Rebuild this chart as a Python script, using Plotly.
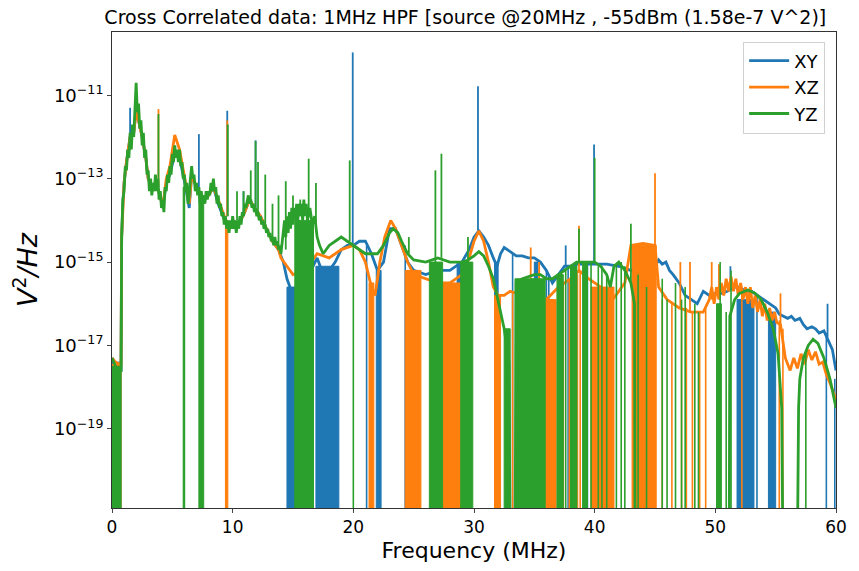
import plotly.graph_objects as go

# ---- Cross-correlated spectra (log10 of V^2/Hz), frequency in MHz ----
# Negative cross-spectrum values fall below the axis; they are stored as -22.
FLOOR_LOG = -22.0

# XY channel pair
xy_freq = [0.0, 0.3, 0.6, 0.75, 0.8, 0.9, 1.0, 1.2, 1.5, 1.8, 2.0, 2.2, 2.5, 2.8, 3.0, 3.3, 3.6, 4.0, 4.2,
           4.5, 4.8, 5.2, 5.6, 6.1, 6.4, 6.6, 7.0, 7.6, 8.0, 8.4, 8.8, 9.2, 9.7, 10.0, 10.5, 11.0, 11.4,
           11.8, 12.3, 12.8, 13.3, 13.8, 14.2, 14.5, 15.0, 15.5, 16.0, 16.5, 17.0, 17.5, 18.0, 18.5, 19.0,
           19.5, 20.0, 20.5, 21.0, 21.5, 22.0, 22.5, 23.0, 23.5, 24.0, 24.5, 25.0, 26.0, 27.0, 28.0, 29.0,
           29.6, 30.0, 30.4, 30.8, 31.2, 31.6, 31.9, 32.2, 32.5, 33.0, 33.5, 34.0, 34.5, 35.0, 35.5, 36.0,
           36.5, 37.0, 37.5, 38.0, 38.5, 39.0, 39.5, 40.0, 41.0, 42.0, 43.0, 44.0, 45.0, 45.3, 45.6, 45.9,
           46.2, 46.5, 47.0, 47.5, 48.0, 48.5, 49.0, 49.5, 50.0, 50.5, 51.0, 51.5, 52.0, 52.5, 53.0, 53.5,
           54.0, 54.5, 55.0, 55.3, 55.6, 56.0, 56.3, 56.6, 57.0, 57.3, 57.6, 58.0, 58.3, 58.6, 59.0, 59.4,
           59.7, 60.0]
xy_log = [-17.3, -17.45, -17.6, -17.6, -14.4, -13.6, -13.1, -12.6, -12.0, -11.9, -11.35, -11.6, -12.0, -12.5,
          -13.0, -13.2, -13.1, -13.4, -13.7, -13.1, -12.9, -12.4, -12.5, -13.2, -13.7, -12.9, -13.2, -13.5,
          -13.4, -13.2, -13.6, -13.9, -14.2, -14.0, -14.1, -13.8, -13.5, -13.7, -13.9, -14.2, -14.5, -14.7,
          -15.0, -15.4, -15.8, -15.5, -15.3, -15.2, -14.9, -15.3, -15.2, -15.0, -14.7, -14.6, -14.6, -14.5,
          -14.5, -14.8, -15.2, -15.0, -14.2, -14.2, -14.6, -15.0, -15.2, -15.3, -15.2, -15.2, -15.0, -14.7,
          -14.4, -14.25, -14.4, -14.6, -14.9, -15.1, -14.8, -14.65, -14.75, -14.85, -14.85, -14.9, -14.9,
          -15.0, -15.2, -15.5, -15.3, -15.1, -15.1, -15.05, -15.05, -15.05, -15.05, -15.05, -15.1, -15.2,
          -15.1, -15.1, -14.95, -15.05, -15.0, -15.2, -15.3, -15.5, -15.8, -15.9, -16.0, -15.7, -15.8,
          -15.75, -15.75, -15.7, -15.6, -15.6, -15.7, -15.7, -15.8, -15.9, -16.0, -16.1, -16.25, -16.3,
          -16.35, -16.3, -16.4, -16.35, -16.5, -16.6, -16.55, -16.6, -16.7, -16.65, -16.9, -17.1, -17.6,
          -18.4]
# (frequency, base, peak) of narrow lines above the floor of the spectrum
xy_spikes = [(1.5, -12.2, -11.3), (7.2, -13.4, -11.93), (9.55, -13.9, -11.37), (10.9, -13.9, -13.3),
             (11.9, -13.7, -12.08), (19.95, -14.6, -9.97), (30.33, -14.3, -10.78), (37.6, -15.1, -14.6),
             (39.95, -15.0, -12.18), (51.25, -15.6, -15.1), (59.3, -16.8, -16.0)]
# (frequency, top) of single lines dropping below the axis
xy_dips = [(21.1, -14.6), (24.3, -14.6), (25.4, -15.2), (33.2, -14.8), (36.0, -15.2), (36.2, -15.3),
           (37.8, -15.1), (38.4, -15.0), (39.2, -15.0), (39.4, -15.0), (53.45, -15.8), (59.2, -16.7),
           (59.9, -17.8)]
# (start, end, top) of densely packed sign changes
xy_bands = [(0.0, 0.75, -17.4), (14.5, 15.2, -15.6), (16.9, 18.8, -15.1), (21.9, 22.3, -15.2),
            (28.6, 29.2, -15.0), (31.7, 32.0, -15.0), (35.0, 35.3, -15.0), (51.8, 53.2, -15.9),
            (54.4, 55.0, -16.2)]

# XZ channel pair
xz_freq = [0.0, 0.3, 0.6, 0.75, 0.8, 0.9, 1.0, 1.2, 1.5, 1.8, 2.0, 2.2, 2.5, 2.8, 3.0, 3.3, 3.6, 4.0, 4.2,
           4.5, 4.8, 5.2, 5.6, 6.1, 6.4, 6.6, 7.0, 7.6, 8.0, 8.4, 8.8, 9.2, 9.7, 10.0, 10.5, 11.0, 11.4,
           11.8, 12.3, 12.8, 13.3, 13.8, 14.0, 14.5, 15.0, 16.0, 17.0, 18.0, 19.0, 20.0, 20.5, 21.0, 21.5,
           21.8, 22.2, 22.6, 23.1, 23.5, 24.0, 24.5, 25.0, 26.0, 27.0, 28.0, 29.0, 29.6, 30.0, 30.4, 30.8,
           31.2, 31.6, 32.0, 32.5, 33.0, 34.0, 35.0, 36.0, 37.0, 38.0, 38.7, 39.5, 40.5, 41.5, 42.5, 43.0,
           44.0, 45.0, 45.3, 46.0, 47.0, 48.0, 49.0, 49.5, 49.7, 49.9, 50.1, 50.3, 50.5, 50.7, 50.9, 51.1,
           51.3, 51.5, 51.7, 51.9, 52.1, 52.3, 52.5, 52.7, 52.9, 53.1, 53.3, 53.5, 53.7, 53.9, 54.1, 54.3,
           54.5, 54.7, 54.9, 55.1, 55.4, 55.8, 56.2, 56.5, 56.8, 57.1, 57.4, 57.7, 58.0, 58.3, 58.6, 58.9,
           59.2, 59.5, 60.0]
xz_log = [-17.3, -17.4, -17.45, -17.5, -14.4, -13.6, -13.1, -12.6, -12.0, -11.9, -11.4, -11.6, -12.0,
          -12.5, -13.0, -13.2, -13.1, -13.4, -13.7, -13.0, -12.7, -11.95, -12.3, -13.1, -13.6, -12.9,
          -13.2, -13.5, -13.4, -13.2, -13.5, -13.8, -14.2, -14.0, -14.1, -13.8, -13.5, -13.7, -13.9,
          -14.2, -14.5, -14.7, -14.9, -15.1, -15.3, -15.2, -14.8, -14.9, -14.7, -14.6, -14.7, -15.0,
          -15.6, -15.8, -15.0, -14.4, -14.0, -14.2, -14.6, -15.0, -15.3, -15.4, -15.5, -15.5, -15.3,
          -14.9, -14.5, -14.25, -14.5, -15.0, -15.6, -15.8, -15.8, -15.7, -15.8, -15.8, -15.9, -15.6,
          -15.4, -15.2, -15.4, -15.6, -15.9, -15.5, -14.6, -14.55, -14.6, -15.6, -15.9, -16.1, -16.2,
          -16.2, -15.9, -15.6, -16.0, -15.6, -15.9, -15.5, -15.8, -15.4, -15.7, -15.35, -15.7, -15.4,
          -15.8, -15.5, -15.9, -15.6, -16.0, -15.6, -16.1, -15.8, -16.2, -15.9, -16.3, -16.0, -16.4,
          -16.1, -16.4, -16.2, -16.45, -16.5, -17.3, -17.6, -17.3, -17.55, -17.2, -17.45, -17.1, -17.35,
          -17.15, -17.45, -17.4, -17.7, -17.9, -18.3]
xz_spikes = [(3.85, -13.2, -11.33), (9.55, -13.9, -11.6), (34.7, -15.8, -14.65), (35.4, -15.8, -15.0),
             (38.7, -15.2, -14.13), (45.0, -14.6, -12.87), (47.1, -16.1, -15.0), (47.9, -16.2, -15.0),
             (49.7, -15.9, -15.0), (50.3, -15.8, -15.05), (55.4, -16.5, -15.75)]
xz_dips = [(45.6, -15.9), (46.4, -16.0), (47.2, -16.1), (47.6, -16.1), (48.1, -16.2), (48.7, -16.2),
           (49.2, -16.1), (52.2, -15.7), (55.3, -16.4), (55.6, -16.6), (33.2, -15.7), (37.4, -15.5),
           (37.9, -15.4), (38.8, -15.2), (39.3, -15.3)]
xz_bands = [(0.0, 0.75, -17.45), (9.4, 9.6, -14.0), (21.3, 21.7, -15.5), (24.3, 25.6, -15.2),
            (27.4, 28.9, -15.5), (31.7, 32.2, -15.8), (35.9, 36.8, -15.9), (36.9, 37.3, -15.6),
            (38.2, 38.6, -15.3), (39.7, 41.6, -15.6), (43.1, 45.1, -14.6)]

# YZ channel pair
yz_freq = [0.0, 0.3, 0.6, 0.75, 0.8, 0.9,
           1.0, 1.1, 1.2, 1.3, 1.4, 1.5, 1.6, 1.7, 1.8, 1.9, 2.0, 2.1, 2.2, 2.3, 2.4, 2.5, 2.6, 2.7, 2.8,
           2.9, 3.0, 3.1, 3.2, 3.3, 3.4, 3.5, 3.6, 3.7, 3.8, 3.9, 4.0, 4.1, 4.2, 4.3, 4.4, 4.5, 4.6, 4.7,
           4.8, 4.9, 5.0, 5.1, 5.2, 5.3, 5.4, 5.5, 5.6, 5.7, 5.8, 5.9, 6.0, 6.1, 6.2, 6.3, 6.4, 6.5, 6.6,
           6.7, 6.8, 6.9, 7.0, 7.1, 7.2, 7.3, 7.4, 7.5, 7.6, 7.7, 7.8, 7.9, 8.0, 8.1, 8.2, 8.3, 8.4, 8.5,
           8.6, 8.7, 8.8, 8.9, 9.0, 9.1, 9.2, 9.3, 9.4, 9.5, 9.6, 9.7, 9.8, 9.9, 10.0, 10.1, 10.2, 10.3,
           10.4, 10.5, 10.6, 10.7, 10.8, 10.9, 11.0, 11.1, 11.2, 11.3, 11.4, 11.5, 11.6, 11.7, 11.8, 11.9,
           12.0, 12.1, 12.2, 12.3, 12.4, 12.5, 12.6, 12.7, 12.8, 12.9, 13.0, 13.1, 13.2, 13.3, 13.4, 13.5,
           13.6, 13.7, 13.8, 13.9, 14.0, 14.2, 14.3, 14.4, 14.5, 14.6, 14.7, 14.8, 14.9, 15.0, 15.1, 15.2,
           15.3, 15.4, 15.5, 15.6, 15.7, 15.8, 15.9, 16.0, 16.1, 16.2, 16.4, 16.6, 16.8, 17.0, 17.2, 17.5,
           18.0, 18.5, 19.0, 19.5, 20.0, 20.5, 21.0, 21.5, 22.0, 22.5, 23.0, 23.3, 23.7, 24.0, 24.5, 25.0,
           26.0, 27.0, 28.0, 29.0, 29.5, 30.0, 30.4, 30.8, 31.2, 31.6, 32.0, 32.5, 32.9, 33.0, 33.4, 33.5,
           34.0, 35.0, 35.5, 36.0, 36.5, 37.0, 37.5, 38.0, 38.5, 39.0, 39.5, 40.0, 40.5, 41.0, 41.3, 41.6,
           42.0, 42.5, 43.0, 43.3, 43.35, 51.15, 51.2, 51.6, 52.0, 52.7, 53.3, 53.8, 54.3, 54.8, 55.2,
           55.5, 55.6, 56.8, 56.9, 57.0, 57.3, 57.7, 58.1, 58.5, 59.0, 59.5, 60.0]
yz_log = [-17.3, -17.5, -17.6, -17.6, -14.4, -13.5,
          -13.3, -12.7, -12.8, -12.3, -12.5, -11.9, -12.3, -11.7, -12.0, -11.2, -10.7, -11.4, -11.2, -11.8,
          -11.6, -12.2, -11.9, -12.5, -12.3, -12.9, -12.8, -13.3, -13.0, -13.4, -13.1, -13.3, -12.9, -13.3,
          -13.0, -13.5, -13.3, -13.7, -13.5, -13.8, -13.2, -13.3, -12.9, -13.1, -12.7, -12.9, -12.4, -12.6,
          -12.2, -12.5, -12.3, -12.6, -12.3, -12.7, -12.6, -13.0, -12.9, -13.3, -13.1, -13.6, -13.4, -13.0,
          -12.7, -13.0, -12.9, -13.3, -13.1, -13.4, -13.2, -13.6, -13.3, -13.6, -13.4, -13.6, -13.3, -13.5,
          -13.3, -13.4, -13.1, -13.3, -13.0, -13.3, -13.2, -13.6, -13.4, -13.7, -13.6, -13.9, -13.8, -14.1,
          -13.9, -14.2, -14.0, -14.3, -14.0, -14.2, -13.9, -14.2, -14.0, -14.3, -14.0, -14.2, -13.9, -14.1,
          -13.8, -13.9, -13.6, -13.7, -13.5, -13.4, -13.6, -13.5, -13.7, -13.6, -13.8, -13.7, -13.9, -13.8,
          -14.0, -13.9, -14.1, -14.0, -14.2, -14.1, -14.3, -14.2, -14.4, -14.3, -14.5, -14.4, -14.6, -14.4,
          -14.6, -14.5, -14.7, -14.6, -14.8, -14.3, -14.0, -14.4, -13.9, -14.3, -13.8, -14.2, -13.7, -14.1,
          -13.7, -14.0, -13.6, -14.0, -13.6, -13.9, -13.6, -14.0, -13.5, -13.9, -13.6, -14.0, -13.7, -14.1,
          -13.9, -14.4, -14.6, -14.8, -14.6, -14.5, -14.4, -14.5, -14.6, -14.7, -14.8, -14.8, -14.8, -14.6,
          -14.3, -14.2, -14.3, -14.5, -14.8, -14.95, -15.0, -14.9, -15.0, -15.0, -14.95, -14.85, -14.75,
          -14.85, -15.1, -15.4, -15.9, -16.6, -17.4, FLOOR_LOG, FLOOR_LOG, -15.5, -15.4, -15.3, -15.3,
          -15.4, -15.4, -15.3, -15.2, -15.1, -15.0, -15.0, -15.0, -15.0, -15.1, -15.3, -15.6, -15.1,
          -15.0, -15.2, -15.5, -16.0, FLOOR_LOG, FLOOR_LOG, -16.3, -15.9, -15.75, -15.67, -15.75, -15.9,
          -16.2, -16.6, -17.2, -18.5, FLOOR_LOG, FLOOR_LOG, -18.5, -17.8, -17.3, -17.0, -16.85, -16.95,
          -17.3, -17.8, -18.5]
yz_spikes = [(3.85, -13.2, -11.45), (9.6, -13.9, -11.7), (10.36, -14.0, -13.3), (10.9, -13.9, -13.3),
             (11.5, -13.6, -12.8), (11.9, -13.7, -12.1), (12.1, -13.9, -12.6), (12.7, -14.1, -12.9),
             (13.3, -14.4, -13.6), (13.8, -14.6, -13.4), (14.4, -14.7, -13.06), (15.0, -14.0, -13.4),
             (15.6, -13.9, -13.5), (16.3, -13.9, -12.52), (16.9, -14.2, -13.1), (19.7, -14.5, -12.56),
             (24.6, -14.8, -14.4), (26.8, -15.0, -12.8), (27.3, -14.9, -12.4), (29.5, -15.0, -14.4),
             (38.7, -15.0, -14.2), (40.0, -15.0, -12.5), (43.0, -15.5, -14.08)]
yz_dips = [(6.0, -13.1), (20.0, -14.6), (36.9, -15.3), (37.6, -15.2), (38.5, -15.0), (39.7, -15.0),
           (40.3, -15.1), (40.6, -15.1), (41.0, -15.3), (41.8, -15.1), (42.2, -15.0), (42.5, -15.1),
           (43.6, -15.3), (44.3, -15.6), (45.6, -15.4), (46.0, -15.9), (46.7, -15.5), (47.2, -15.9),
           (47.5, -15.6), (48.3, -16.0), (48.6, -16.2), (50.4, -15.0), (50.9, -16.2), (51.3, -15.2),
           (57.5, -17.2)]
yz_bands = [(0.0, 0.75, -17.5), (5.9, 6.0, -13.2), (7.2, 7.6, -13.4), (15.15, 16.7, -14.0),
            (26.3, 27.4, -15.0), (28.9, 29.9, -15.0), (32.5, 33.0, -16.6), (33.4, 35.9, -15.4),
            (37.0, 37.4, -15.3), (38.0, 38.4, -15.1), (39.0, 39.4, -15.0), (50.1, 50.5, -16.0)]

series = [
    ("XY", "#1f77b4", xy_freq, xy_log, xy_spikes, xy_dips, xy_bands),
    ("XZ", "#ff7f0e", xz_freq, xz_log, xz_spikes, xz_dips, xz_bands),
    ("YZ", "#2ca02c", yz_freq, yz_log, yz_spikes, yz_dips, yz_bands),
]


def lin(v):
    return 10.0 ** v


fig = go.Figure()
for name, color, freq, logv, spikes, dips, bands in series:
    # dense sign-change regions: filled from the band top down past the axis
    for f1, f2, top in bands:
        fig.add_trace(go.Scatter(x=[f1, f1, f2, f2, f1],
                                 y=[lin(FLOOR_LOG), lin(top), lin(top), lin(FLOOR_LOG), lin(FLOOR_LOG)],
                                 mode="lines", fill="toself", fillcolor=color,
                                 line=dict(color=color, width=1), showlegend=False, hoverinfo="skip"))
    # isolated negative bins
    dx, dy = [], []
    for f, top in dips:
        dx += [f, f, None]
        dy += [lin(top), lin(FLOOR_LOG), None]
    fig.add_trace(go.Scatter(x=dx, y=dy, mode="lines", line=dict(color=color, width=1.6),
                             showlegend=False, hoverinfo="skip"))
    # main spectrum
    fig.add_trace(go.Scatter(x=freq, y=[lin(v) for v in logv], mode="lines", name=name,
                             line=dict(color=color, width=2.8)))
    # narrow lines
    sx, sy = [], []
    for f, b, p in spikes:
        sx += [f, f, None]
        sy += [lin(b), lin(p), None]
    fig.add_trace(go.Scatter(x=sx, y=sy, mode="lines", line=dict(color=color, width=1.8),
                             showlegend=False, hoverinfo="skip"))

y_tick_exp = [-11, -13, -15, -17, -19]
x_ticks = [0, 10, 20, 30, 40, 50, 60]

fig.update_layout(
    width=859, height=571,
    margin=dict(l=112, r=21, t=32, b=58),
    paper_bgcolor="white", plot_bgcolor="white",
    font=dict(family="DejaVu Sans", color="black"),
    title=dict(text="Cross Correlated data: 1MHz HPF [source @20MHz , -55dBm (1.58e-7 V^2)]",
               x=0.488, xref="paper", xanchor="center", y=0.97, yref="container", yanchor="middle",
               font=dict(size=19)),
    legend=dict(x=0.985, y=0.98, xanchor="right", yanchor="top", bgcolor="rgba(255,255,255,0.9)",
                bordercolor="#d0d0d0", borderwidth=1, font=dict(size=18), itemwidth=40,
                tracegroupgap=2),
    showlegend=True,
)
fig.update_xaxes(range=[0, 60], tickvals=x_ticks, ticks="outside", ticklen=4, tickwidth=1,
                 showline=True, linecolor="#333", mirror=True, showgrid=False, zeroline=False,
                 tickfont=dict(size=17),
                 title=dict(text="Frequency (MHz)", font=dict(size=22), standoff=6))
fig.update_yaxes(type="log", range=[-20.9, -9.48], tickvals=[lin(e) for e in y_tick_exp],
                 ticktext=["10<sup>\u2212%d</sup>" % (-e) for e in y_tick_exp],
                 ticks="outside", ticklen=4, tickwidth=1, showline=True, linecolor="#333", mirror=True,
                 showgrid=False, zeroline=False, tickfont=dict(size=18),
                 title=dict(text="<i>V</i><sup>2</sup><i>/Hz</i>", font=dict(size=27), standoff=8))

fig.write_html("out.html")
